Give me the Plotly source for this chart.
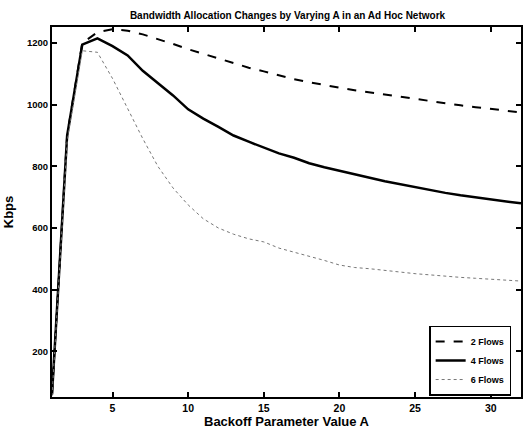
import plotly.graph_objects as go

x_vals = list(range(1, 33))
flows2 = [60, 900, 1200, 1235, 1245, 1240, 1228, 1213, 1197, 1180, 1165, 1150, 1135, 1120, 1108, 1095,
          1083, 1073, 1063, 1055, 1047, 1040, 1032, 1025, 1018, 1010, 1004, 998, 992, 986, 980, 975]
flows4 = [60, 900, 1195, 1215, 1190, 1160, 1110, 1070, 1030, 985, 955, 928, 900, 880, 860, 842,
          828, 810, 797, 785, 774, 763, 752, 742, 732, 723, 714, 706, 699, 692, 686, 680]
flows6 = [55, 880, 1175, 1170, 1085, 985, 890, 800, 730, 675, 630, 600, 580, 565, 555, 535,
          522, 508, 495, 480, 472, 468, 462, 458, 452, 448, 443, 440, 437, 434, 431, 428]
series_names = ["2 Flows", "4 Flows", "6 Flows"]
x_ticks = [5, 10, 15, 20, 25, 30]
y_ticks = [200, 400, 600, 800, 1000, 1200]

FONT = "Liberation Sans, Arial, sans-serif"

fig = go.Figure()
fig.add_trace(go.Scatter(x=x_vals, y=flows2, name=series_names[0], mode="lines",
                         line=dict(color="black", width=2, dash="dash")))
fig.add_trace(go.Scatter(x=x_vals, y=flows4, name=series_names[1], mode="lines",
                         line=dict(color="black", width=2.5)))
fig.add_trace(go.Scatter(x=x_vals, y=flows6, name=series_names[2], mode="lines",
                         line=dict(color="#777777", width=1, dash="dot")))

fig.update_layout(
    width=524, height=433,
    margin=dict(l=52, r=1, t=27, b=36),
    paper_bgcolor="white", plot_bgcolor="white",
    title=dict(text="Bandwidth Allocation Changes by Varying A in an Ad Hoc Network",
               x=(52 + 523) / 2 / 524, xanchor="center", y=1 - 15 / 433, yanchor="middle",
               font=dict(family=FONT, size=10, color="black", weight="bold")),
    showlegend=True,
    legend=dict(x=0.979, y=0.004, xanchor="right", yanchor="bottom",
                bgcolor="white", bordercolor="black", borderwidth=1.5,
                font=dict(family=FONT, size=9, color="black", weight="bold"),
                tracegroupgap=0, itemwidth=30),
)
fig.update_xaxes(range=[1, 32], tickvals=x_ticks, ticks="inside", ticklen=5, tickwidth=1.5,
                 tickcolor="black", showline=True, linecolor="black", linewidth=2, mirror="ticks",
                 showgrid=False, zeroline=False,
                 tickfont=dict(family=FONT, size=10.5, color="black", weight="bold"),
                 title=dict(text="Backoff Parameter Value A", standoff=4,
                            font=dict(family=FONT, size=13, color="black", weight="bold")))
fig.update_yaxes(range=[52, 1252], tickvals=y_ticks, ticks="inside", ticklen=5, tickwidth=1.5,
                 tickcolor="black", showline=True, linecolor="black", linewidth=2, mirror="ticks",
                 showgrid=False, zeroline=False,
                 tickfont=dict(family=FONT, size=9.5, color="black", weight="bold"),
                 title=dict(text="Kbps", standoff=10,
                            font=dict(family=FONT, size=13, color="black", weight="bold")))

fig.write_html("out.html")
